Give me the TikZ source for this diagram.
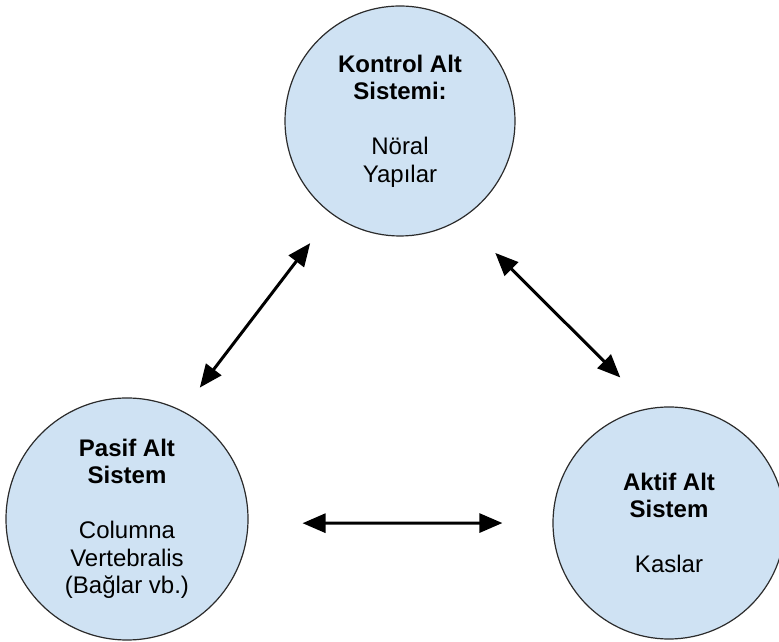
\documentclass[tikz,border=0pt]{standalone}
\usepackage{fontspec}
\setmainfont{Liberation Sans}
\usetikzlibrary{arrows.meta}
\definecolor{cazulc}{HTML}{CFE2F3}
\definecolor{cborde}{HTML}{2B2B2B}
\tikzset{
  circulo/.style={circle, draw=cborde, line width=1.2pt, fill=cazulc, inner sep=0pt,
    align=center, font=\fontsize{24}{27.5}\selectfont},
  flecha/.style={{Triangle[length=23pt,width=19pt]}-{Triangle[length=23pt,width=19pt]},
    line width=3pt, draw=black},
}
\begin{document}
\begin{tikzpicture}[x=1pt,y=1pt]
  \useasboundingbox (0,0) rectangle (779,642);
  \node[circulo, minimum size=230pt] (k) at (400,521) {\textbf{Kontrol Alt}\\\textbf{Sistemi:}\\[27.5pt]Nöral\\Yapılar};
  \node[circulo, minimum size=242pt] (p) at (127,123) {\textbf{Pasif Alt}\\\textbf{Sistem}\\[27.5pt]Columna\\Vertebralis\\(Bağlar vb.)};
  \node[circulo, minimum size=232pt] (a) at (669,119) {\textbf{Aktif Alt}\\\textbf{Sistem}\\[27.5pt]Kaslar};
  \draw[flecha, shorten <=36pt, shorten >=29pt] (k.234) -- (p.63);
  \draw[flecha, shorten <=48pt, shorten >=43pt] (k.302) -- (a.99);
  \draw[flecha, shorten <=54pt, shorten >=50pt] (p.-2) -- (a.180);
\end{tikzpicture}
\end{document}
